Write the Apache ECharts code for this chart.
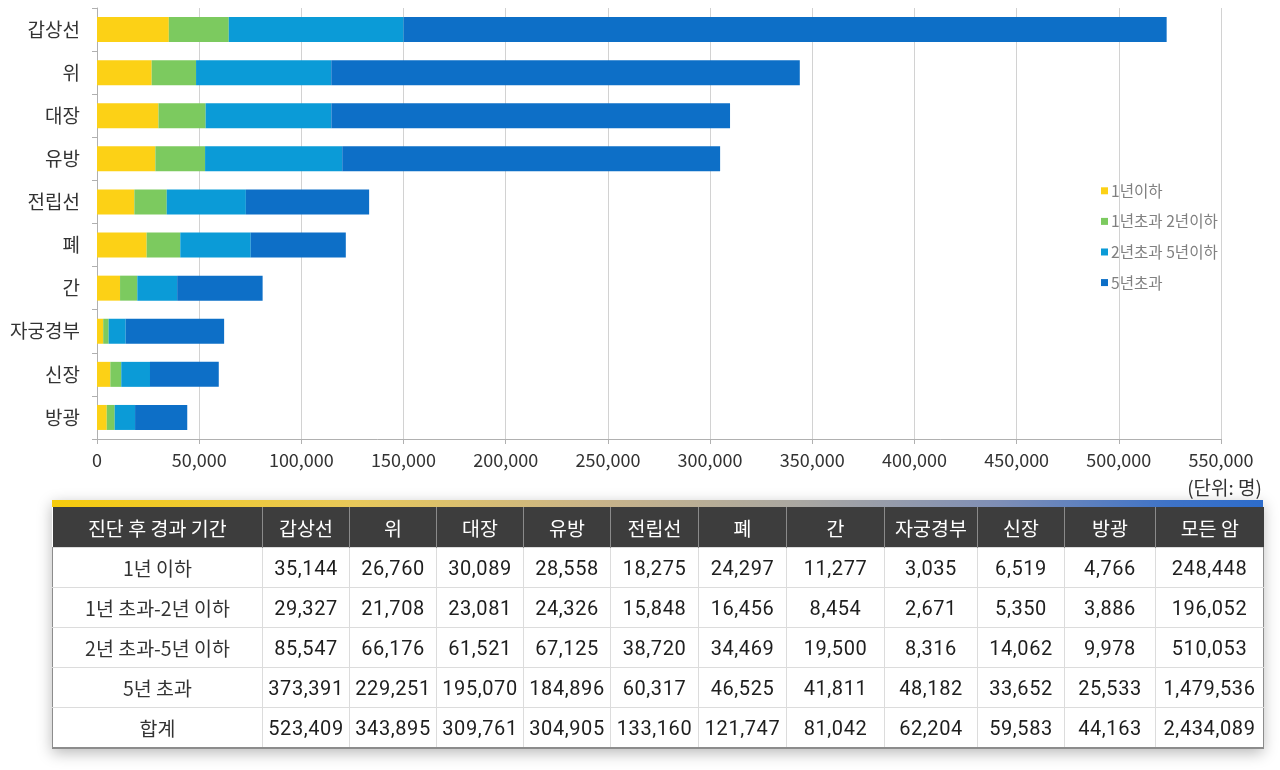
<!DOCTYPE html>
<html>
<head>
<meta charset="utf-8">
<script src="https://cdn.jsdelivr.net/npm/echarts@6/dist/echarts.min.js"></script>
<style>
  html, body { margin: 0; padding: 0; background: #fff; }
  #wrap { position: relative; width: 1280px; height: 770px; overflow: hidden; }
  #chart { position: absolute; left: 0; top: 0; width: 1280px; height: 500px; }
  #unit { position: absolute; right: 18px; top: 474px; font: 19px "Noto Sans CJK KR", sans-serif; color: #333; line-height: 26px; }
  #tbl { position: absolute; left: 52px; top: 500px; width: 1211px; box-shadow: 0 4px 14px rgba(0,0,0,0.28); }
  #bar { height: 7px; background: linear-gradient(to right, #f6cb0c 0%, #e8c85a 25%, #c9b489 45%, #a9a7a2 62%, #7f8fb6 78%, #3f73c7 92%, #2d6ccb 100%); }
  table { border-collapse: collapse; width: 1211px; table-layout: fixed; font-family: Roboto, "Noto Sans CJK KR", sans-serif; }
  th { background: #3d3d3d; color: #fff; font: 400 19.5px "Noto Sans CJK KR", sans-serif; height: 40px; padding: 0; border-left: 1px solid #8a8a8a; }
  th:first-child { border-left: none; }
  td { height: 39px; padding: 0; text-align: center; font-size: 20px; letter-spacing: 0.6px; color: #1e1e1e; border: 1px solid #dcdcdc; white-space: nowrap; }
  td.lab { font: 19.5px "Noto Sans CJK KR", sans-serif; letter-spacing: 0; color: #333; }
  tbody tr:last-child td { border-bottom: 2px solid #8c8c8c; }
  tbody td:first-child { border-left: 1px solid #8c8c8c; }
  tbody td:last-child { border-right: 1px solid #8c8c8c; }
</style>
</head>
<body>
<div id="wrap">
  <div id="chart"></div>
  <div id="unit">(단위: 명)</div>
  <div id="tbl"><div id="bar"></div><table id="t"></table></div>
</div>
<script>
const categories = ['갑상선', '위', '대장', '유방', '전립선', '폐', '간', '자궁경부', '신장', '방광'];
const seriesNames = ['1년이하', '1년초과 2년이하', '2년초과 5년이하', '5년초과'];
const rowLabels = ['1년 이하', '1년 초과-2년 이하', '2년 초과-5년 이하', '5년 초과', '합계'];
const upTo1 = [35144, 26760, 30089, 28558, 18275, 24297, 11277, 3035, 6519, 4766];
const y1to2 = [29327, 21708, 23081, 24326, 15848, 16456, 8454, 2671, 5350, 3886];
const y2to5 = [85547, 66176, 61521, 67125, 38720, 34469, 19500, 8316, 14062, 9978];
const over5 = [373391, 229251, 195070, 184896, 60317, 46525, 41811, 48182, 33652, 25533];
const totals = [523409, 343895, 309761, 304905, 133160, 121747, 81042, 62204, 59583, 44163];
const allCancer = [248448, 196052, 510053, 1479536, 2434089];
const tableHead = ['진단 후 경과 기간', ...categories, '모든 암'];
const colors = ['#fcd116', '#7cca5f', '#0b9bd7', '#0d6fc7'];

const fmt = v => v.toLocaleString('en-US');

const chart = echarts.init(document.getElementById('chart'));
const dataSets = [upTo1, y1to2, y2to5, over5];
chart.setOption({
  animation: false,
  grid: { left: 97, right: 59, top: 8, height: 431 },
  legend: {
    orient: 'vertical', left: 1096, top: 178,
    itemWidth: 7, itemHeight: 7, itemGap: 15, icon: 'rect',
    textStyle: { color: '#808080', fontSize: 15.6, fontFamily: '"Noto Sans CJK KR", sans-serif', padding: [0, 0, 0, -2] },
    data: seriesNames
  },
  xAxis: {
    type: 'value', min: 0, max: 550000, interval: 50000,
    axisLine: { show: true, lineStyle: { color: '#b0b0b0' } },
    axisTick: { show: true, length: 5, lineStyle: { color: '#b0b0b0' } },
    splitLine: { lineStyle: { color: '#d2d2d2' } },
    axisLabel: { color: '#333', fontSize: 18, margin: 12, fontFamily: '"Noto Sans CJK KR", sans-serif', formatter: v => fmt(v) }
  },
  yAxis: {
    type: 'category', inverse: true, data: categories,
    axisLine: { lineStyle: { color: '#b0b0b0' } },
    axisTick: { show: true, length: 5, lineStyle: { color: '#b0b0b0' } },
    axisLabel: { color: '#333', fontSize: 19, margin: 17, fontFamily: '"Noto Sans CJK KR", sans-serif' }
  },
  series: dataSets.map((d, i) => ({
    name: seriesNames[i], type: 'bar', stack: 'total', barWidth: '58%',
    itemStyle: { color: colors[i] }, data: d
  }))
});

// table
const t = document.getElementById('t');
const widths = [210, 87, 87, 87, 87, 88, 88, 98, 93, 87, 91, 108];
let html = '<colgroup>' + widths.map(w => `<col style="width:${w}px">`).join('') + '</colgroup>';
html += '<thead><tr>' + tableHead.map(h => `<th>${h}</th>`).join('') + '</tr></thead><tbody>';
const rows = [upTo1, y1to2, y2to5, over5, totals];
rows.forEach((r, i) => {
  html += `<tr><td class="lab">${rowLabels[i]}</td>` + r.map(v => `<td>${fmt(v)}</td>`).join('') + `<td>${fmt(allCancer[i])}</td></tr>`;
});
html += '</tbody>';
t.innerHTML = html;
</script>
</body>
</html>
